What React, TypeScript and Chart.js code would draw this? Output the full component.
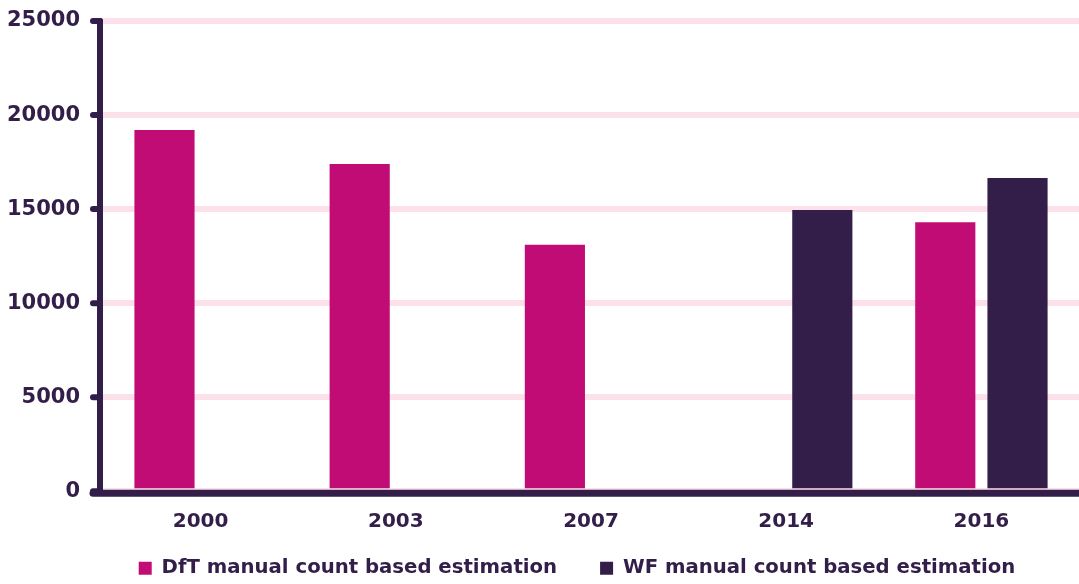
import { useEffect, useRef } from 'react';
import { Chart, registerables } from 'chart.js';

Chart.register(...registerables);

const categories = ['2000', '2003', '2007', '2014', '2016'];
const dftValues = [19200, 17400, 13100, null, 14300];
const wfValues = [null, null, null, 14950, 16650];
const yTickValues = [0, 5000, 10000, 15000, 20000, 25000];
const seriesLabels = ['DfT manual count based estimation', 'WF manual count based estimation'];

const PINK = '#c20c75';
const DARK = '#321e48';
const GRID = '#fde1ea';
const FONT = '"DejaVu Sans"';

const axisPlugin = {
  id: 'axisDecor',
  afterLayout(chart: any) {
    const lg = chart.legend;
    if (lg) {
      lg.top -= 19;
      lg.bottom -= 19;
      lg.left += 37.5;
      lg.right += 37.5;
    }
  },
  afterDatasetsDraw(chart: any) {
    const { ctx, chartArea, scales } = chart;
    const y = scales.y;
    const ax = chartArea.left - 3;
    const top = y.getPixelForValue(yTickValues[yTickValues.length - 1]);
    const bottom = y.getPixelForValue(0);
    ctx.save();
    ctx.strokeStyle = DARK;
    ctx.lineCap = 'round';
    ctx.lineWidth = 6;
    ctx.beginPath();
    ctx.moveTo(ax, top);
    ctx.lineTo(ax, bottom);
    ctx.stroke();
    y.ticks.forEach((t: any) => {
      const py = y.getPixelForValue(t.value);
      ctx.beginPath();
      ctx.moveTo(ax - 7, py);
      ctx.lineTo(ax, py);
      ctx.stroke();
    });
    ctx.lineWidth = 7;
    ctx.beginPath();
    ctx.moveTo(ax - 7, bottom + 2);
    ctx.lineTo(chartArea.right + 4, bottom + 2);
    ctx.stroke();
    ctx.restore();
  },
};

export default function App() {
  const ref = useRef<HTMLCanvasElement | null>(null);
  useEffect(() => {
    if (!ref.current) return;
    const chart = new Chart(ref.current, {
      type: 'bar',
      data: {
        labels: categories,
        datasets: [
          { label: seriesLabels[0], data: dftValues, backgroundColor: PINK, borderWidth: 0 },
          { label: seriesLabels[1], data: wfValues, backgroundColor: DARK, borderWidth: 0 },
        ],
      },
      options: {
        responsive: false,
        animation: false,
        categoryPercentage: 0.74,
        barPercentage: 0.833,
        layout: { padding: { left: 0, top: 21, right: 0, bottom: -23 } },
        plugins: {
          tooltip: { enabled: false },
          legend: {
            position: 'bottom',
            labels: {
              boxWidth: 13,
              boxHeight: 13,
              padding: 43,
              color: DARK,
              font: { family: FONT, size: 19.7, weight: 'bold' },
            },
          },
        },
        scales: {
          x: {
            grid: { display: false, drawTicks: false },
            border: { display: false },
            ticks: { color: DARK, padding: 18, font: { family: FONT, size: 20, weight: 'bold' } },
            afterFit: (s: any) => { s.height = 43; },
          },
          y: {
            min: 0,
            max: 25000,
            grid: { color: GRID, lineWidth: 6, drawTicks: false },
            border: { display: false },
            afterBuildTicks: (s: any) => { s.ticks = yTickValues.map((v) => ({ value: v })); },
            ticks: {
              color: DARK,
              padding: 23,
              font: { family: FONT, size: 21, weight: 'bold' },
              callback: (v: any) => String(v),
            },
            afterFit: (s: any) => {
              s.width = 103;
              s.paddingTop = 0;
              s.paddingBottom = 0;
            },
          },
        },
      },
      plugins: [axisPlugin],
    });
    return () => chart.destroy();
  }, []);
  return (
    <canvas
      ref={ref}
      width={1079}
      height={584}
      style={{ position: 'absolute', left: 0, top: 0, display: 'block' }}
    />
  );
}
